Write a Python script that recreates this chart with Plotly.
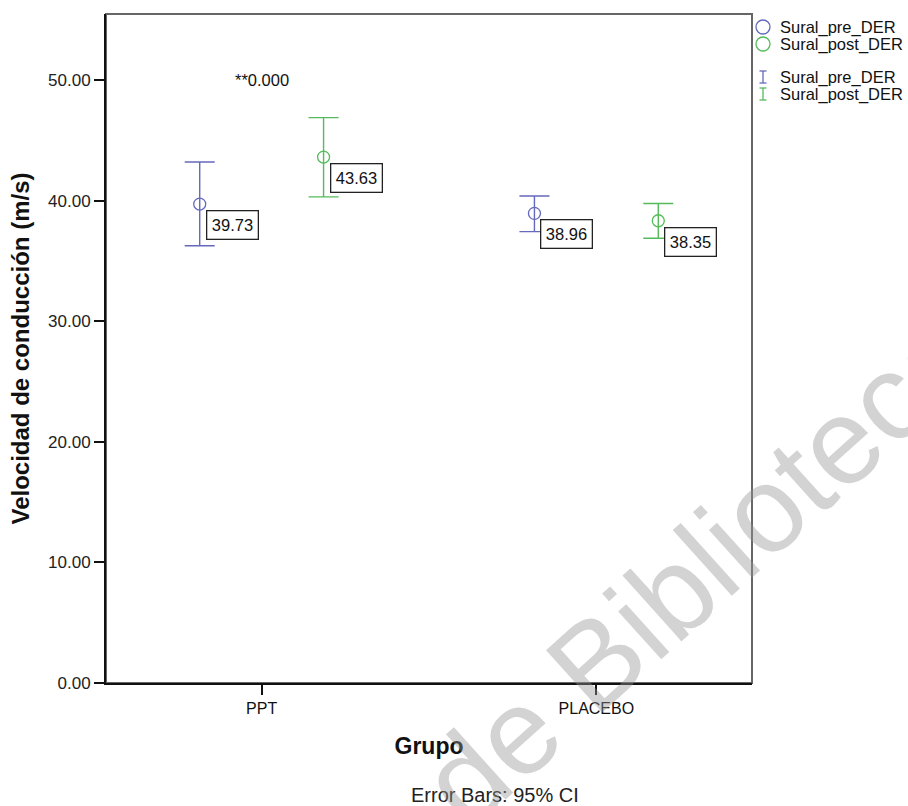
import plotly.graph_objects as go

# ---- data ----
groups = ["PPT", "PLACEBO"]
series_names = ["Sural_pre_DER", "Sural_post_DER"]
pre_mean = [39.73, 38.96]
pre_lo = [36.27, 37.45]
pre_hi = [43.22, 40.40]
post_mean = [43.63, 38.35]
post_lo = [40.33, 36.90]
post_hi = [46.90, 39.78]
y_ticks = [0, 10, 20, 30, 40, 50]
sig_text = "**0.000"
footnote = "Error Bars: 95% CI"
watermark = "de Biblioteca"

FONT = "Arial, 'Liberation Sans', sans-serif"
C_PRE = "#6569bb"
C_POST = "#55bb5a"
OFFSET = 0.185

W, H = 908, 806
ML, MR, MT, MB = 106, 156, 14, 123
PW, PH = W - ML - MR, H - MT - MB


def px(X):
    return (X - ML) / PW


def py(Y):
    return (H - MB - Y) / PH


series = [
    (series_names[0], pre_mean, pre_lo, pre_hi, C_PRE, -OFFSET),
    (series_names[1], post_mean, post_lo, post_hi, C_POST, OFFSET),
]

fig = go.Figure()
for name, mean, lo, hi, color, off in series:
    xs = [i + off for i in range(len(groups))]
    fig.add_trace(go.Scatter(
        x=xs, y=mean, mode="markers", name=name, showlegend=False,
        marker=dict(symbol="circle-open", size=12, color=color, line=dict(width=1.3, color=color)),
        error_y=dict(type="data", symmetric=False,
                     array=[h - m for h, m in zip(hi, mean)],
                     arrayminus=[m - l for m, l in zip(mean, lo)],
                     color=color, thickness=1.4, width=15),
    ))
    for x, m in zip(xs, mean):
        fig.add_annotation(x=x, y=m, xref="x", yref="y", text=f"{m:.2f}",
                           showarrow=False, xanchor="left", yanchor="top",
                           xshift=6, yshift=-6,
                           font=dict(family=FONT, size=16.5, color="#111"),
                           bordercolor="#222", borderwidth=1.3, borderpad=4.5,
                           bgcolor="white")

# ---- legend (drawn to match the original's compact layout) ----
legend_rows = [
    ("circle", series_names[0], C_PRE, 27),
    ("circle", series_names[1], C_POST, 44),
    ("bar", series_names[0], C_PRE, 77),
    ("bar", series_names[1], C_POST, 94),
]
LX = 763
for kind, label, color, Y in legend_rows:
    if kind == "circle":
        fig.add_shape(type="circle", xref="paper", yref="paper",
                      xsizemode="pixel", ysizemode="pixel",
                      xanchor=px(LX), yanchor=py(Y), x0=-7, x1=7, y0=-7, y1=7,
                      line=dict(color=color, width=1.3))
    else:
        for (x0, x1, y0, y1) in [(0, 0, -6, 6), (-3.5, 3.5, 6, 6), (-3.5, 3.5, -6, -6)]:
            fig.add_shape(type="line", xref="paper", yref="paper",
                          xsizemode="pixel", ysizemode="pixel",
                          xanchor=px(LX), yanchor=py(Y), x0=x0, x1=x1, y0=y0, y1=y1,
                          line=dict(color=color, width=1.3))
    fig.add_annotation(x=px(778), y=py(Y), xref="paper", yref="paper", text=label,
                       showarrow=False, xanchor="left", yanchor="middle",
                       font=dict(family=FONT, size=16.5, color="#111"))

fig.add_annotation(x=0, y=50, xref="x", yref="y", text=sig_text, showarrow=False,
                   xanchor="center", yanchor="middle",
                   font=dict(family=FONT, size=16.5, color="#111"))

fig.add_annotation(x=px(495), y=py(795), xref="paper", yref="paper", text=footnote,
                   showarrow=False, xanchor="center", yanchor="middle",
                   font=dict(family=FONT, size=20, color="#222"))

# watermark
fig.add_annotation(x=px(700), y=py(568), xref="paper", yref="paper", text=watermark,
                   showarrow=False, xanchor="center", yanchor="middle",
                   textangle=-42,
                   font=dict(family=FONT, size=122, color="rgba(150,150,150,0.42)"))

fig.add_shape(type="rect", xref="paper", yref="paper", x0=0, y0=0, x1=1, y1=1,
              line=dict(color="#666", width=2), layer="below")

axis_common = dict(showgrid=False, zeroline=False, showline=True, linecolor="#111",
                   linewidth=2, ticks="outside", ticklen=10, tickwidth=1.5,
                   tickcolor="#111")

fig.update_layout(
    width=W, height=H,
    margin=dict(l=ML, r=MR, t=MT, b=MB),
    paper_bgcolor="white", plot_bgcolor="white",
    font=dict(family=FONT, color="#111"),
    xaxis=dict(range=[-0.465, 1.465], tickvals=list(range(len(groups))), ticktext=groups,
               tickfont=dict(family=FONT, size=16, color="#111"),
               title=dict(text="Grupo", standoff=22,
                          font=dict(family=FONT, size=23, weight="bold", color="#111")),
               **axis_common),
    yaxis=dict(range=[0, 55.5], tickvals=y_ticks, tickformat=".2f",
               tickfont=dict(family=FONT, size=17, color="#222"),
               title=dict(text="Velocidad de conducción (m/s)", standoff=12,
                          font=dict(family=FONT, size=24, weight="bold", color="#111")),
               **axis_common),
    showlegend=False,
)

fig.write_html("out.html", config={"displayModeBar": False},
               post_script="document.body.style.margin='0';")
